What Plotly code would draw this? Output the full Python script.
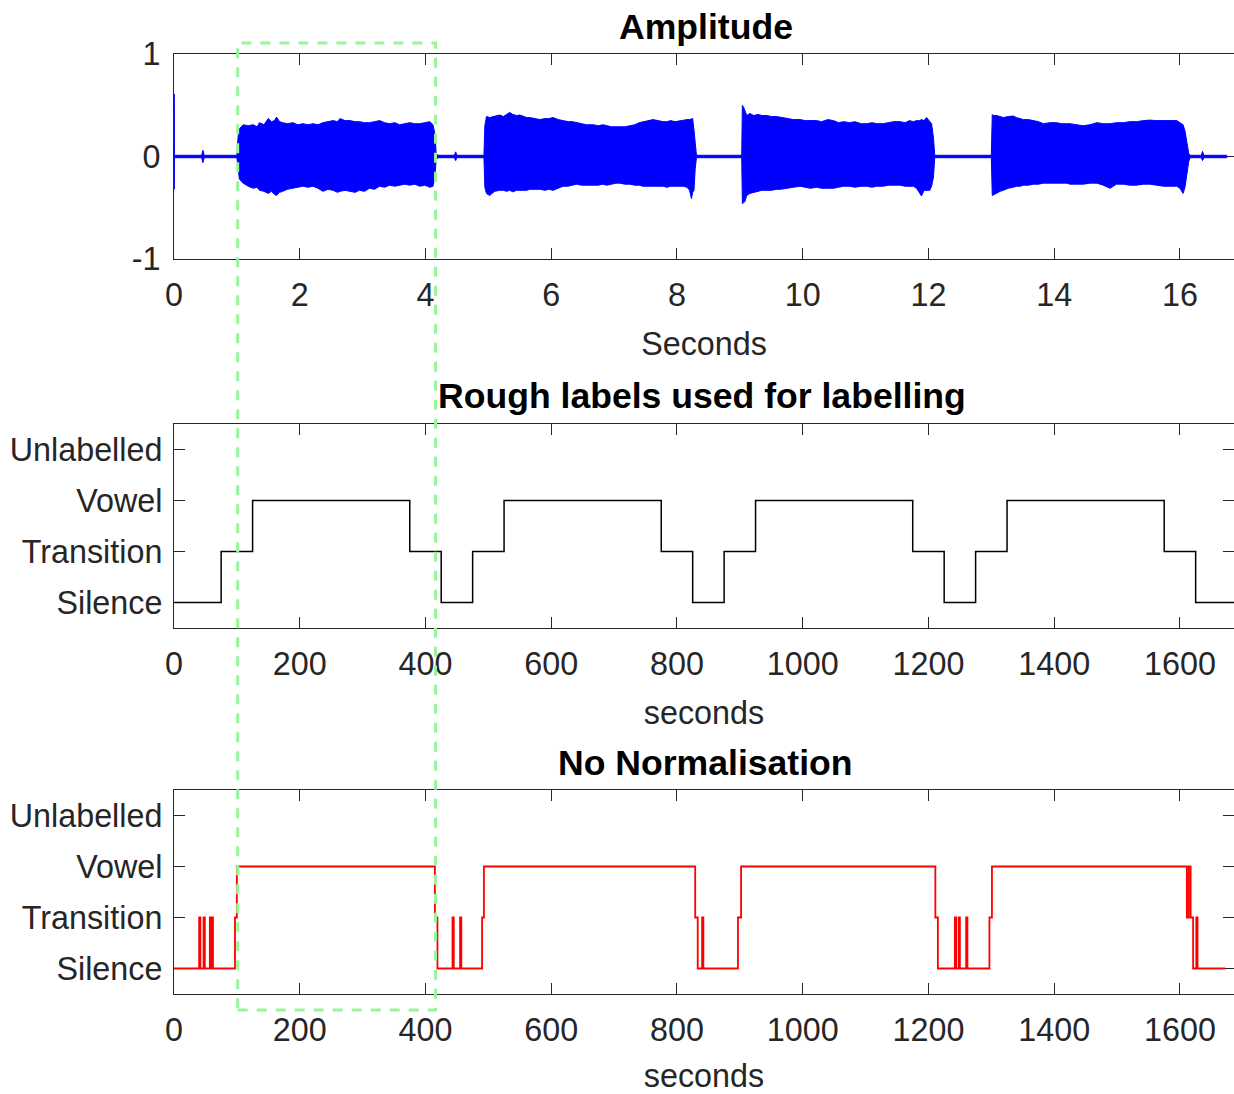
import plotly.graph_objects as go

# ---------------------------------------------------------------- data
# Amplitude envelope of the recording (seconds, upper peak, lower peak)
env_t = [0.000, 0.003, 0.006, 0.02, 0.44, 0.46, 0.48, 1.00,
         1.02, 1.04, 1.10, 1.18, 1.26, 1.32, 1.36, 1.43, 1.50, 1.55, 1.60, 1.63, 1.68, 1.73, 1.80, 1.89,
         1.97, 2.05, 2.13, 2.21, 2.29, 2.37, 2.45, 2.53, 2.60, 2.64, 2.72, 2.80, 2.88, 2.95, 3.03, 3.11,
         3.19, 3.27, 3.35, 3.43, 3.51, 3.59, 3.67, 3.75, 3.83, 3.91, 3.99, 4.07, 4.12, 4.15, 4.17, 4.20,
         4.46, 4.48, 4.50, 4.93,
         4.944, 4.97, 5.02, 5.10, 5.18, 5.24, 5.29, 5.34, 5.39, 5.45, 5.50, 5.56, 5.61, 5.66, 5.74, 5.82,
         5.90, 5.96, 6.03, 6.11, 6.19, 6.27, 6.34, 6.40, 6.48, 6.56, 6.67, 6.75, 6.82, 6.88, 6.96, 7.03,
         7.09, 7.17, 7.25, 7.33, 7.40, 7.46, 7.54, 7.62, 7.70, 7.78, 7.84, 7.90, 7.97, 8.05, 8.10, 8.16,
         8.20, 8.23, 8.25, 8.27, 8.29, 8.31,
         9.03, 9.04, 9.06, 9.08, 9.11, 9.16, 9.22, 9.29, 9.35, 9.43, 9.50, 9.58, 9.65, 9.69, 9.77, 9.85,
         9.96, 10.04, 10.12, 10.22, 10.30, 10.40, 10.49, 10.57, 10.65, 10.75, 10.83, 10.93, 11.02, 11.10,
         11.18, 11.28, 11.36, 11.45, 11.55, 11.63, 11.70, 11.76, 11.81, 11.86, 11.89, 11.93, 11.97, 12.02,
         12.05, 12.08, 12.10,
         13.00, 13.015, 13.03, 13.08, 13.14, 13.19, 13.27, 13.35, 13.40, 13.46, 13.51, 13.59, 13.67, 13.75,
         13.83, 13.93, 14.04, 14.12, 14.20, 14.25, 14.36, 14.46, 14.57, 14.68, 14.78, 14.89, 14.99, 15.10,
         15.20, 15.31, 15.42, 15.52, 15.63, 15.74, 15.84, 15.95, 16.00, 16.05, 16.08, 16.11, 16.14, 16.16,
         16.34, 16.36, 16.38, 16.745]
env_hi = [0.012, 0.61, 0.012, 0.012, 0.012, 0.06, 0.012, 0.012,
          0.20, 0.27, 0.31, 0.30, 0.31, 0.29, 0.33, 0.31, 0.37, 0.34, 0.35, 0.385, 0.34, 0.33, 0.32, 0.33,
          0.31, 0.32, 0.31, 0.32, 0.31, 0.33, 0.34, 0.35, 0.34, 0.37, 0.35, 0.35, 0.34, 0.34, 0.33, 0.33,
          0.34, 0.35, 0.33, 0.32, 0.33, 0.31, 0.32, 0.33, 0.32, 0.32, 0.33, 0.34, 0.31, 0.22, 0.03, 0.012,
          0.012, 0.045, 0.012, 0.012,
          0.30, 0.39, 0.38, 0.39, 0.405, 0.39, 0.41, 0.43, 0.41, 0.40, 0.405, 0.39, 0.38, 0.38, 0.37, 0.36,
          0.37, 0.37, 0.38, 0.36, 0.35, 0.34, 0.34, 0.33, 0.32, 0.31, 0.31, 0.30, 0.31, 0.30, 0.29, 0.29,
          0.29, 0.29, 0.30, 0.31, 0.33, 0.34, 0.35, 0.36, 0.35, 0.34, 0.34, 0.35, 0.34, 0.35, 0.35, 0.36,
          0.36, 0.37, 0.37, 0.26, 0.10, 0.012,
          0.012, 0.50, 0.48, 0.44, 0.40, 0.42, 0.40, 0.41, 0.40, 0.40, 0.39, 0.39, 0.38, 0.38, 0.37, 0.36,
          0.36, 0.35, 0.35, 0.35, 0.34, 0.36, 0.35, 0.33, 0.34, 0.33, 0.34, 0.32, 0.32, 0.33,
          0.32, 0.32, 0.33, 0.34, 0.34, 0.33, 0.35, 0.34, 0.35, 0.35, 0.36, 0.35, 0.38, 0.34,
          0.32, 0.18, 0.012,
          0.012, 0.41, 0.40, 0.40, 0.39, 0.38, 0.39, 0.395, 0.38, 0.37, 0.36, 0.36, 0.35, 0.34,
          0.32, 0.33, 0.33, 0.32, 0.32, 0.32, 0.31, 0.30, 0.31, 0.33, 0.32, 0.32, 0.33, 0.33,
          0.34, 0.34, 0.35, 0.355, 0.35, 0.35, 0.35, 0.35, 0.33, 0.31, 0.25, 0.13, 0.03, 0.012,
          0.012, 0.05, 0.012, 0.012]
env_lo = [-0.012, -0.32, -0.012, -0.012, -0.012, -0.06, -0.012, -0.012,
          -0.10, -0.22, -0.26, -0.29, -0.31, -0.30, -0.33, -0.34, -0.36, -0.34, -0.37, -0.38, -0.35, -0.34, -0.32, -0.31,
          -0.30, -0.29, -0.30, -0.29, -0.31, -0.34, -0.32, -0.33, -0.35, -0.34, -0.33, -0.34, -0.35, -0.33, -0.34, -0.31,
          -0.32, -0.29, -0.30, -0.28, -0.29, -0.28, -0.27, -0.28, -0.27, -0.29, -0.28, -0.30, -0.29, -0.20, -0.03, -0.012,
          -0.012, -0.04, -0.012, -0.012,
          -0.30, -0.36, -0.38, -0.34, -0.33, -0.33, -0.34, -0.33, -0.345, -0.33, -0.33, -0.33, -0.33, -0.32, -0.32, -0.32,
          -0.33, -0.32, -0.33, -0.31, -0.29, -0.29, -0.28, -0.27, -0.28, -0.28, -0.28, -0.28, -0.27, -0.28, -0.27, -0.26,
          -0.26, -0.27, -0.27, -0.28, -0.28, -0.29, -0.29, -0.29, -0.29, -0.29, -0.30, -0.29, -0.29, -0.29, -0.29, -0.30,
          -0.33, -0.41, -0.35, -0.33, -0.12, -0.012,
          -0.012, -0.46, -0.45, -0.44, -0.38, -0.36, -0.35, -0.34, -0.33, -0.33, -0.33, -0.32, -0.32, -0.32, -0.31, -0.30,
          -0.29, -0.30, -0.31, -0.30, -0.31, -0.31, -0.31, -0.30, -0.29, -0.29, -0.30, -0.29, -0.29, -0.30,
          -0.29, -0.29, -0.28, -0.28, -0.28, -0.29, -0.29, -0.29, -0.31, -0.36, -0.385, -0.33, -0.33, -0.33,
          -0.29, -0.20, -0.012,
          -0.012, -0.38, -0.38, -0.36, -0.34, -0.33, -0.31, -0.30, -0.29, -0.29, -0.28, -0.28, -0.27, -0.27,
          -0.26, -0.255, -0.26, -0.26, -0.26, -0.27, -0.27, -0.27, -0.26, -0.26, -0.28, -0.31, -0.27, -0.27,
          -0.28, -0.28, -0.27, -0.27, -0.28, -0.29, -0.29, -0.29, -0.31, -0.36, -0.30, -0.20, -0.05, -0.012,
          -0.012, -0.04, -0.012, -0.012]

class_names = ["Silence", "Transition", "Vowel", "Unlabelled"]

# Rough labels: frame at which each segment starts and its class
rough_start = [0, 75, 125, 375, 425, 475, 525, 775, 825, 875, 925, 1175, 1225, 1275, 1325, 1575, 1625]
rough_class = ["Silence", "Transition", "Vowel", "Transition", "Silence", "Transition", "Vowel",
               "Transition", "Silence", "Transition", "Vowel", "Transition", "Silence", "Transition",
               "Vowel", "Transition", "Silence"]
rough_end = 1692

# Predicted labels without normalisation
pred_start = [0, 40, 42, 47, 49, 57, 59, 60, 62, 97, 100, 415, 419, 443, 445, 455, 457, 490, 493,
              829, 833, 840, 842, 897, 902, 1211, 1215, 1242, 1244, 1248, 1250, 1260, 1262, 1297, 1301,
              1611, 1614, 1617, 1621, 1626, 1628]
pred_class = ["Silence", "Transition", "Silence", "Transition", "Silence", "Transition", "Silence",
              "Transition", "Silence", "Transition", "Vowel", "Transition", "Silence", "Transition",
              "Silence", "Transition", "Silence", "Transition", "Vowel",
              "Transition", "Silence", "Transition", "Silence", "Transition", "Vowel", "Transition",
              "Silence", "Transition", "Silence", "Transition", "Silence", "Transition", "Silence",
              "Transition", "Vowel", "Transition", "Vowel", "Transition", "Silence", "Transition", "Silence"]
pred_end = 1672

# Highlighted region (seconds on the amplitude axis)
highlight_t = [1.013, 4.16]

sec_ticks = [0, 2, 4, 6, 8, 10, 12, 14, 16]
frame_ticks = [0, 200, 400, 600, 800, 1000, 1200, 1400, 1600]

# ---------------------------------------------------------------- layout helpers
W, H = 1234, 1094
FONT = "Liberation Sans, Arial, Helvetica, sans-serif"
AX = "#262626"
TICK_FS = 32.3
TITLE_FS = 35.6
X_LEFT = 174 / W


def ydom(top_px, bottom_px):
    return [1 - bottom_px / H, 1 - top_px / H]


def steps(starts, classes, end):
    idx = [class_names.index(c) + 1 for c in classes]
    return list(starts) + [end], idx + [idx[-1]]


fig = go.Figure()

# waveform envelope as a filled band
fig.add_trace(go.Scatter(
    x=env_t + env_t[::-1], y=env_hi + env_lo[::-1],
    fill="toself", fillcolor="#0000FF", mode="lines",
    line=dict(color="#0000FF", width=1), xaxis="x", yaxis="y",
    hoverinfo="skip", showlegend=False))

rx, ry = steps(rough_start, rough_class, rough_end)
fig.add_trace(go.Scatter(x=rx, y=ry, mode="lines", line=dict(color="black", width=1.5, shape="hv"),
                         xaxis="x2", yaxis="y2", showlegend=False))

px_, py_ = steps(pred_start, pred_class, pred_end)
fig.add_trace(go.Scatter(x=px_, y=py_, mode="lines", line=dict(color="#FF0000", width=1.8, shape="hv"),
                         xaxis="x3", yaxis="y3", showlegend=False))

common_axis = dict(showline=True, linecolor=AX, linewidth=1.3, mirror="ticks",
                   ticks="inside", ticklen=11, tickwidth=1.2, tickcolor=AX,
                   showgrid=False, zeroline=False, automargin=False, layer="below traces",
                   tickfont=dict(family=FONT, size=TICK_FS, color=AX))

title_font = dict(family=FONT, size=TICK_FS, color=AX)

layout = dict(
    width=W, height=H, margin=dict(l=0, r=0, t=0, b=0, autoexpand=False),
    paper_bgcolor="white", plot_bgcolor="white",
    showlegend=False,
    xaxis=dict(common_axis, domain=[X_LEFT, 1], anchor="y", range=[0, 16.86],
               tickvals=sec_ticks, ticktext=[str(v) for v in sec_ticks], ticklabelstandoff=7,
               title=dict(text="Seconds", font=title_font, standoff=20)),
    yaxis=dict(common_axis, domain=ydom(54, 259), anchor="x", range=[-1, 1],
               tickvals=[-1, 0, 1], ticktext=["-1", "0", "1"], ticklabelstandoff=6),
    xaxis2=dict(common_axis, domain=[X_LEFT, 1], anchor="y2", range=[0, 1686],
                tickvals=frame_ticks, ticktext=[str(v) for v in frame_ticks], ticklabelstandoff=7,
                title=dict(text="seconds", font=title_font, standoff=20)),
    yaxis2=dict(common_axis, domain=ydom(424, 628), anchor="x2", range=[0.5, 4.5],
                tickvals=[1, 2, 3, 4], ticktext=class_names, ticklabelstandoff=4),
    xaxis3=dict(common_axis, domain=[X_LEFT, 1], anchor="y3", range=[0, 1686],
                tickvals=frame_ticks, ticktext=[str(v) for v in frame_ticks], ticklabelstandoff=7,
                title=dict(text="seconds", font=title_font, standoff=20)),
    yaxis3=dict(common_axis, domain=ydom(790, 994), anchor="x3", range=[0.5, 4.5],
                tickvals=[1, 2, 3, 4], ticktext=class_names, ticklabelstandoff=4),
)
fig.update_layout(**layout)

# panel titles
for text, xpx, ypx in [("Amplitude", 706, 27),
                       ("Rough labels used for labelling", 702.5, 396),
                       ("No Normalisation", 705, 763)]:
    fig.add_annotation(text=f"<b>{text}</b>", xref="paper", yref="paper",
                       x=xpx / W, y=1 - ypx / H, xanchor="center", yanchor="middle",
                       showarrow=False, font=dict(family=FONT, size=TITLE_FS, color="black"))

# dashed box marking the first vowel across all panels
fig.add_shape(type="rect", xref="x", yref="paper",
              x0=highlight_t[0], x1=highlight_t[1], y0=1 - 1010 / H, y1=1 - 43 / H,
              line=dict(color="rgb(153,245,153)", width=3, dash="10px,9px"),
              fillcolor="rgba(0,0,0,0)", layer="above")

fig.write_html("out.html")
